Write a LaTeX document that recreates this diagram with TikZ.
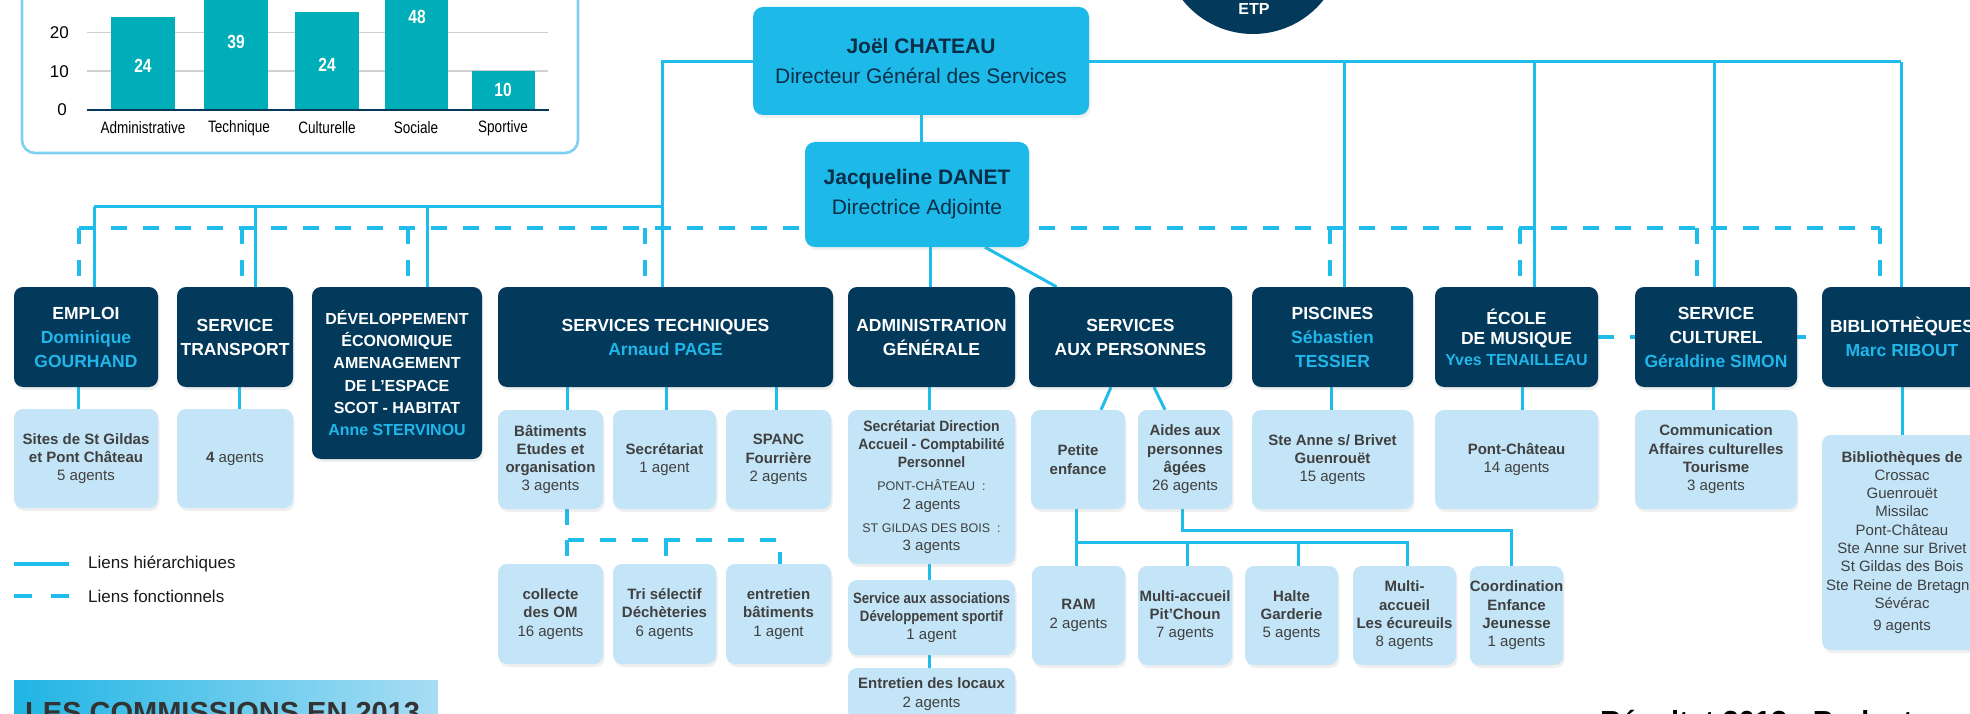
\documentclass[tikz,border=0pt]{standalone}
\usepackage{fontspec}
\setmainfont{Liberation Sans}
\newfontfamily\condA[FakeStretch=0.88]{Liberation Sans}
\newfontfamily\condB[FakeStretch=0.82]{Liberation Sans}
\newfontfamily\condC[FakeStretch=0.93]{Liberation Sans}
\usetikzlibrary{shadows}
\pgfdeclarelayer{back}
\pgfdeclarelayer{bg}
\pgfsetlayers{back,bg,main}
\definecolor{navy}{HTML}{03395A}
\definecolor{cyanbox}{HTML}{1DBAE9}
\definecolor{cyantext}{HTML}{21B6EA}
\definecolor{lightbox}{HTML}{C4E5F7}
\definecolor{linecol}{HTML}{1EBDEC}
\definecolor{subtext}{HTML}{404040}
\definecolor{toptext}{HTML}{0A2E47}
\definecolor{barcol}{HTML}{00AEB9}
\definecolor{framecol}{HTML}{7FD0F1}
\definecolor{legtext}{HTML}{1A1A1A}
\definecolor{bannerL}{HTML}{1FB5E4}
\definecolor{bannerR}{HTML}{A8DDF4}
\definecolor{gridcol}{HTML}{D0D0D0}
\definecolor{bannertext}{HTML}{333333}
\newcommand{\setfs}[2]{\fontsize{#1pt}{#2pt}\selectfont}
\newcommand{\cy}[1]{\textcolor{cyantext}{#1}}
\tikzset{
  boxshadow/.style={drop shadow={opacity=0.12, shadow xshift=1.5pt, shadow yshift=-3pt}},
  topbox/.style={fill=cyanbox, text=toptext, rounded corners=10pt, inner sep=0pt, align=center, font=\setfs{21}{30}, boxshadow},
  headbox/.style={fill=navy, text=white, rounded corners=9pt, inner sep=0pt, align=center, font=\bfseries\setfs{17.5}{24}, boxshadow},
  subbox/.style={fill=lightbox, text=subtext, rounded corners=9pt, inner sep=0pt, align=center, font=\setfs{15}{18.3}, boxshadow},
  hier/.style={draw=linecol, line width=3pt},
  func/.style={draw=linecol, line width=3.3pt, dash pattern=on 16pt off 16pt},
  lbl/.style={inner sep=0pt},
}
\begin{document}
\begin{tikzpicture}[x=1pt,y=-1pt]
\useasboundingbox (0,0) rectangle (1970,714);
\begin{pgfonlayer}{back}
\fill[white] (0,0) rectangle (1970,714);
\end{pgfonlayer}

% ---------- chart ----------
\draw[framecol, line width=2.6pt, rounded corners=13pt] (22,-30) rectangle (578,153);
\draw[gridcol, line width=1.2pt] (87,32.3) -- (548,32.3);
\draw[gridcol, line width=1.2pt] (87,71) -- (548,71);
\fill[barcol] (111,110) rectangle (175,16.7);
\fill[barcol] (204,110) rectangle (268,-41);
\fill[barcol] (295,110) rectangle (359,11.7);
\fill[barcol] (385,110) rectangle (448,-76);
\fill[barcol] (472,110) rectangle (535,71);
\draw[navy, line width=2pt] (87,110) -- (549,110);
\node[lbl, anchor=east, font=\setfs{17}{20}] (y20) at (69,33) {20};
\node[lbl, anchor=east, font=\setfs{17}{20}] (y10) at (69,72) {10};
\node[lbl, anchor=east, font=\setfs{17}{20}] (y0) at (67,110) {0};
\foreach \nm/\xx/\yy/\vv in {v1/143/65.7/24, v2/236/41.7/39, v3/327/65/24, v4/417/16.7/48, v5/503/90/10}
  \node[lbl, text=white, font=\condB\bfseries\setfs{19}{22}] (\nm) at (\xx,\yy) {\vv};
\foreach \nm/\xx/\tt in {x1/143/Administrative, x2/239/Technique, x3/327/Culturelle, x4/416/Sociale, x5/503/Sportive}
  \node[lbl, font=\condB\setfs{16.5}{19}] (\nm) at (\xx,128) {\tt};

% ---------- ETP ----------
\fill[navy] (1253,-56) circle[radius=90pt];
\node[lbl, text=white, font=\bfseries\setfs{16}{18}] (etp) at (1254,9) {ETP};

% ---------- top boxes ----------
\node[topbox, minimum width=336pt, minimum height=108pt] (dgs) at (921,61) {\textbf{Joël CHATEAU}\\Directeur Général des Services};
\node[topbox, minimum width=224pt, minimum height=105pt] (dga) at (917,194.5) {\textbf{Jacqueline DANET}\\Directrice Adjointe};

% ---------- head boxes ----------
\node[headbox, minimum width=144pt, minimum height=100pt] (emploi) at (86,337) {EMPLOI\\\cy{Dominique}\\\cy{GOURHAND}};
\node[headbox, minimum width=116pt, minimum height=100pt] (transport) at (235,337) {SERVICE\\TRANSPORT};
\node[headbox, minimum width=170pt, minimum height=172pt, font=\bfseries\setfs{16}{22.3}] (dev) at (397,373) {DÉVELOPPEMENT\\ÉCONOMIQUE\\AMENAGEMENT\\DE L’ESPACE\\SCOT - HABITAT\\\cy{Anne STERVINOU}};
\node[headbox, minimum width=335pt, minimum height=100pt] (tech) at (665.5,337) {SERVICES TECHNIQUES\\\cy{Arnaud PAGE}};
\node[headbox, minimum width=167pt, minimum height=100pt] (admin) at (931.5,337) {ADMINISTRATION\\GÉNÉRALE};
\node[headbox, minimum width=203pt, minimum height=100pt] (sap) at (1130.5,337) {SERVICES\\AUX PERSONNES};
\node[headbox, minimum width=161pt, minimum height=100pt] (piscines) at (1332.5,337) {PISCINES\\\cy{Sébastien}\\\cy{TESSIER}};
\node[headbox, minimum width=163pt, minimum height=100pt, font=\bfseries\setfs{17.5}{20.5}] (ecole) at (1516.5,337) {ÉCOLE\\DE MUSIQUE\\\cy{\setfs{16}{20.5}Yves TENAILLEAU}};
\node[headbox, minimum width=162pt, minimum height=100pt] (culturel) at (1716,337) {SERVICE\\CULTUREL\\\cy{Géraldine SIMON}};
\node[headbox, minimum width=160pt, minimum height=100pt] (biblio) at (1902,337) {BIBLIOTHÈQUES\\\cy{Marc RIBOUT}};

% ---------- sub boxes ----------
\node[subbox, minimum width=144pt, minimum height=99pt] (semploi) at (86,458.5) {\textbf{Sites de St Gildas}\\\textbf{et Pont Château}\\5 agents};
\node[subbox, minimum width=116pt, minimum height=99pt] (stransport) at (235,458.5) {\textbf{4} agents};
\node[subbox, minimum width=105pt, minimum height=99pt] (sbat) at (550.5,459.5) {\textbf{Bâtiments}\\\textbf{Etudes et}\\\textbf{organisation}\\3 agents};
\node[subbox, minimum width=103pt, minimum height=99pt] (ssecr) at (664.5,459.5) {\textbf{Secrétariat}\\1 agent};
\node[subbox, minimum width=105pt, minimum height=99pt] (sspanc) at (778.5,459.5) {\textbf{SPANC}\\\textbf{Fourrière}\\2 agents};
\node[subbox, minimum width=167pt, minimum height=154pt] (sadmin) at (931.5,487) {\textbf{\condC Secrétariat Direction}\\\textbf{\condC Accueil - Comptabilité}\\\textbf{\condC Personnel}\\[5pt]{\setfs{12.5}{15}PONT-CHÂTEAU~~:}\\2 agents\\[5pt]{\setfs{12.5}{15}ST GILDAS DES BOIS~~:}\\3 agents};
\node[subbox, minimum width=94pt, minimum height=99pt] (spetite) at (1078,459.5) {\textbf{Petite}\\\textbf{enfance}};
\node[subbox, minimum width=94pt, minimum height=99pt] (saides) at (1185,459.5) {\textbf{Aides aux}\\\textbf{personnes}\\\textbf{âgées}\\26 agents};
\node[subbox, minimum width=161pt, minimum height=99pt] (spisc) at (1332.5,459.5) {\textbf{Ste Anne s/ Brivet}\\\textbf{Guenrouët}\\15 agents};
\node[subbox, minimum width=163pt, minimum height=99pt] (secole) at (1516.5,459.5) {\textbf{Pont-Château}\\14 agents};
\node[subbox, minimum width=162pt, minimum height=99pt] (scult) at (1716,459.5) {\textbf{Communication}\\\textbf{Affaires culturelles}\\\textbf{Tourisme}\\3 agents};
\node[subbox, minimum width=160pt, minimum height=215pt] (sbiblio) at (1902,542.5) {\textbf{Bibliothèques de}\\Crossac\\Guenrouët\\Missilac\\Pont-Château\\Ste Anne sur Brivet\\St Gildas des Bois\\Ste Reine de Bretagne\\Sévérac\\[4pt]9 agents};

% ---------- row 4 ----------
\node[subbox, minimum width=105pt, minimum height=100pt] (collecte) at (550.5,614) {\textbf{collecte}\\\textbf{des OM}\\16 agents};
\node[subbox, minimum width=103pt, minimum height=100pt] (tri) at (664.5,614) {\textbf{Tri sélectif}\\\textbf{Déchèteries}\\6 agents};
\node[subbox, minimum width=105pt, minimum height=100pt] (entretien) at (778.5,614) {\textbf{entretien}\\\textbf{bâtiments}\\1 agent};
\node[subbox, minimum width=167pt, minimum height=75pt] (assoc) at (931.5,617.5) {\textbf{\condA Service aux associations}\\\textbf{\condA Développement sportif}\\1 agent};
\node[subbox, minimum width=167pt, minimum height=52pt] (locaux) at (931.5,694) {\textbf{Entretien des locaux}\\2 agents};
\node[subbox, minimum width=93pt, minimum height=99pt] (ram) at (1078.5,615.5) {\textbf{RAM}\\2 agents};
\node[subbox, minimum width=94pt, minimum height=99pt] (pitchoun) at (1185,615.5) {\textbf{Multi-accueil}\\\textbf{Pit’Choun}\\7 agents};
\node[subbox, minimum width=93pt, minimum height=99pt] (halte) at (1291.5,615.5) {\textbf{Halte}\\\textbf{Garderie}\\5 agents};
\node[subbox, minimum width=103pt, minimum height=99pt] (ecureuils) at (1404.5,615.5) {\textbf{Multi-}\\\textbf{accueil}\\\textbf{Les écureuils}\\8 agents};
\node[subbox, minimum width=93pt, minimum height=99pt] (coord) at (1516.5,615.5) {\textbf{Coordination}\\\textbf{Enfance}\\\textbf{Jeunesse}\\1 agents};

% ---------- legend & bottom texts ----------
\coordinate (l1a) at (14,564);
\coordinate (l1b) at (69,564);
\coordinate (l2a) at (14,596);
\coordinate (l2b) at (69,596);
\draw[hier, line width=4pt] (l1a) -- (l1b);
\draw[func, line width=4pt, dash pattern=on 18pt off 19pt] (l2a) -- (l2b);
\node[lbl, anchor=west, text=legtext, font=\setfs{17}{20}] (leg1) at (88,564) {Liens hiérarchiques};
\node[lbl, anchor=west, text=legtext, font=\setfs{17}{20}] (leg2) at (88,596) {Liens fonctionnels};
\shade[left color=bannerL, right color=bannerR] (14,680) rectangle (438,720);
\node[lbl, anchor=base west, text=bannertext, font=\bfseries\setfs{29}{34}] (comm) at (25,722) {LES COMMISSIONS EN 2013};
\node[lbl, anchor=base west, text=black, font=\bfseries\setfs{29}{34}] (res) at (1600,731) {Résultat 2013 - Budget};

% ---------- connectors ----------
\begin{pgfonlayer}{bg}
\coordinate (bT) at (0,62);
\coordinate (bL) at (0,206.7);
\coordinate (bD) at (0,228);
\coordinate (tD) at (0,540);
\coordinate (pB) at (0,542);
\coordinate (aB) at (0,530);
% DGS -> DGA
\draw[hier] (dgs.south) -- (dgs.south |- dga.north);
% top bus
\coordinate (tL) at ([xshift=-3.5pt]tech.north);
\coordinate (bR) at ([xshift=-1pt]biblio.north);
\draw[hier] (dgs.west |- bT) -- (tL |- bT) -- (tL);
\draw[hier] (dgs.east |- bT) -- (bR |- bT);
\foreach \n/\o in {piscines/11.5, ecole/17.5, culturel/-2, biblio/-1}{
  \coordinate (t) at ([xshift=\o pt]\n.north);
  \draw[hier] (t |- bT) -- (t);
}
% left bus
\coordinate (eL) at ([xshift=8pt]emploi.north);
\draw[hier] (eL |- bL) -- (tL |- bL);
\foreach \n/\o in {emploi/8, transport/20, dev/30}{
  \coordinate (t) at ([xshift=\o pt]\n.north);
  \draw[hier] (t |- bL) -- (t);
}
% functional bus
\coordinate (dA) at ([xshift=-7pt]emploi.north);
\coordinate (dB) at ([xshift=-22pt]biblio.north);
\draw[func] (dA |- bD) -- (dB |- bD);
\foreach \n/\o in {emploi/-7, transport/7, dev/11, tech/-20.5, piscines/-2.5, ecole/3.5, culturel/-19, biblio/-22}{
  \coordinate (t) at ([xshift=\o pt]\n.north);
  \draw[func] (t |- bD) -- (t);
}
\draw[func] (ecole.east) -- (biblio.west);
% DGA -> admin, sap
\coordinate (aT) at ([xshift=-1.5pt]admin.north);
\draw[hier] (aT |- dga.south) -- (aT);
\draw[hier] ([xshift=68pt]dga.south) -- ([xshift=-74pt]sap.north);
% heads -> subs
\draw[hier] ([xshift=-8pt]emploi.south) -- ([xshift=-8pt]semploi.north);
\draw[hier] ([xshift=4pt]transport.south) -- ([xshift=4pt]stransport.north);
\foreach \n/\o in {sbat/16.5, ssecr/1.5, sspanc/-2.5}{
  \coordinate (t) at ([xshift=\o pt]\n.north);
  \draw[hier] (t |- tech.south) -- (t);
}
\coordinate (aS) at ([xshift=-2.5pt]sadmin.north);
\draw[hier] (aS |- admin.south) -- (aS);
\draw[hier] ([xshift=-2.5pt]sadmin.south) -- ([xshift=-2.5pt]assoc.north);
\draw[hier] ([xshift=-2.5pt]assoc.south) -- ([xshift=-2.5pt]locaux.north);
\draw[hier] ([xshift=-19.5pt]sap.south) -- ([xshift=23pt]spetite.north);
\draw[hier] ([xshift=23.5pt]sap.south) -- ([xshift=-20pt]saides.north);
\draw[hier] ([xshift=-1.5pt]piscines.south) -- ([xshift=-1.5pt]spisc.north);
\draw[hier] ([xshift=6pt]ecole.south) -- ([xshift=6pt]secole.north);
\draw[hier] ([xshift=-3pt]culturel.south) -- ([xshift=-3pt]scult.north);
\draw[hier] (biblio.south) -- (sbiblio.north);
% technical functional links
\coordinate (c1) at ([xshift=16.5pt]sbat.south);
\coordinate (c3) at ([xshift=1.5pt]entretien.north);
\coordinate (c2) at ([xshift=1.5pt]tri.north);
\draw[func] (c1) -- (c1 |- tD) -- (c3 |- tD) -- (c3);
\draw[func] (c1 |- tD) -- (c1 |- collecte.north);
\draw[func] (c2 |- tD) -- (c2);
% petite enfance
\coordinate (p0) at ([xshift=-2pt]spetite.south);
\coordinate (p4) at ([xshift=2.5pt]ecureuils.north);
\draw[hier] (p0) -- (p0 |- ram.north);
\draw[hier] (p0 |- pB) -- (p4 |- pB) -- (p4);
\coordinate (p2) at ([xshift=2pt]pitchoun.north);
\coordinate (p3) at ([xshift=6.5pt]halte.north);
\draw[hier] (p2 |- pB) -- (p2);
\draw[hier] (p3 |- pB) -- (p3);
% aides -> coordination
\coordinate (q0) at ([xshift=-3pt]saides.south);
\coordinate (q1) at ([xshift=-5.5pt]coord.north);
\draw[hier] (q0) -- (q0 |- aB) -- (q1 |- aB) -- (q1);
\end{pgfonlayer}
\end{tikzpicture}
\end{document}
